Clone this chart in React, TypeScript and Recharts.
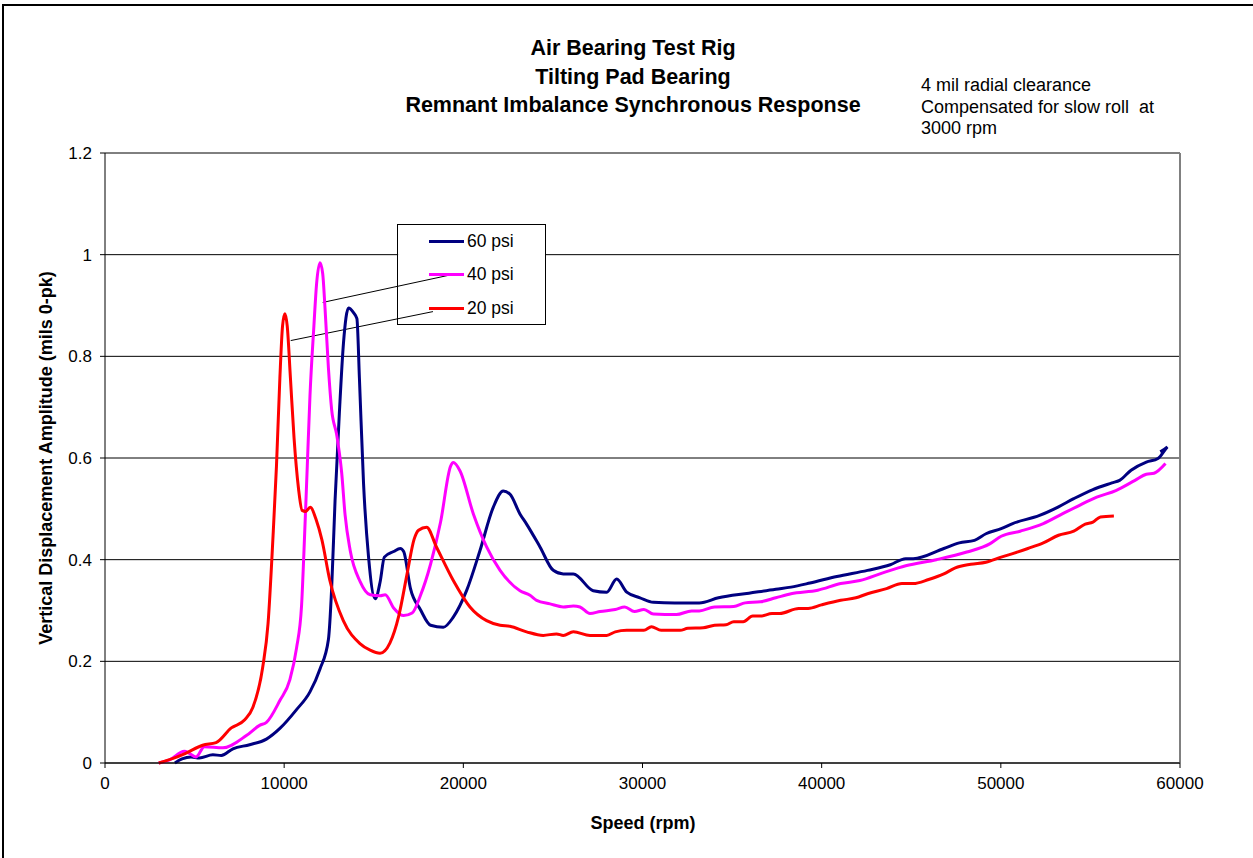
import { LineChart, Line, XAxis, YAxis, CartesianGrid, ReferenceLine, ReferenceArea } from "recharts"

type Pt = { rpm: number; v: number }
const pts = (rows: number[][]): Pt[] => rows.map(([rpm, v]) => ({ rpm, v }))

// 20 psi supply pressure
const psi20 = pts([
  [3000, 0], [3800, 0.009], [4500, 0.019], [5450, 0.035], [6200, 0.04], [7050, 0.069], [7800, 0.085],
  [8250, 0.109], [8800, 0.188], [9100, 0.274], [9380, 0.447], [9570, 0.584], [9760, 0.757], [9910, 0.86],
  [10040, 0.884], [10170, 0.86], [10350, 0.757], [10550, 0.64], [10800, 0.54], [11000, 0.497], [11200, 0.495],
  [11450, 0.503], [11800, 0.477], [12100, 0.44], [12550, 0.359], [13300, 0.28], [14230, 0.235], [14800, 0.222],
  [15350, 0.216], [15900, 0.236], [16400, 0.29], [16850, 0.37], [17250, 0.44], [17500, 0.458], [17950, 0.464],
  [18500, 0.425], [19440, 0.359], [20370, 0.307], [21300, 0.28], [22050, 0.271], [22600, 0.269], [23530, 0.258],
  [24460, 0.251], [25200, 0.254], [25580, 0.251], [26140, 0.258], [27070, 0.251], [28000, 0.251], [28480, 0.258],
  [29120, 0.261], [30080, 0.261], [30500, 0.268], [31040, 0.261], [32100, 0.261], [32530, 0.265], [33390, 0.266],
  [34020, 0.271], [34660, 0.272], [35090, 0.278], [35620, 0.278], [36150, 0.289], [36580, 0.289], [37230, 0.294],
  [37650, 0.294], [38720, 0.304], [39250, 0.304], [39990, 0.311], [41060, 0.32], [41910, 0.325], [42560, 0.333],
  [43620, 0.343], [44480, 0.353], [45110, 0.353], [45970, 0.361], [46820, 0.372], [47460, 0.384], [48320, 0.391],
  [49170, 0.395], [50020, 0.405], [50660, 0.412], [51510, 0.422], [52370, 0.433], [53220, 0.448], [54070, 0.456],
  [54710, 0.47], [55140, 0.474], [55560, 0.484], [56310, 0.486],
])

// 40 psi
const psi40 = pts([
  [3000, 0], [3600, 0.006], [4430, 0.023], [4710, 0.019], [5080, 0.012], [5550, 0.032], [6580, 0.03],
  [7890, 0.054], [8630, 0.074], [9010, 0.08], [9760, 0.123], [10320, 0.164], [10690, 0.226], [10970, 0.309],
  [11100, 0.412], [11290, 0.584], [11440, 0.722], [11660, 0.86], [11810, 0.943], [12000, 0.984], [12150, 0.963],
  [12280, 0.895], [12470, 0.777], [12650, 0.695], [12930, 0.646], [13210, 0.571], [13400, 0.488], [13680, 0.419],
  [14240, 0.357], [14800, 0.331], [15360, 0.329], [15640, 0.331], [16110, 0.305], [16670, 0.29], [17140, 0.295],
  [17600, 0.329], [18170, 0.391], [18730, 0.474], [19290, 0.584], [19440, 0.591], [19810, 0.575], [20560, 0.49],
  [21300, 0.425], [22050, 0.379], [23160, 0.339], [23720, 0.33], [24090, 0.32], [24840, 0.313], [25580, 0.307],
  [26140, 0.309], [26510, 0.307], [27070, 0.294], [27630, 0.298], [28480, 0.302], [29010, 0.307], [29550, 0.298],
  [30080, 0.302], [30610, 0.293], [31890, 0.292], [32740, 0.299], [33170, 0.299], [34020, 0.307], [35090, 0.308],
  [35730, 0.315], [36580, 0.317], [37440, 0.325], [38290, 0.333], [39780, 0.34], [41060, 0.353], [42130, 0.359],
  [43410, 0.374], [44690, 0.388], [46400, 0.4], [48100, 0.415], [49380, 0.431], [50020, 0.446], [51080, 0.456],
  [52370, 0.471], [53430, 0.49], [54280, 0.505], [55350, 0.523], [56420, 0.536], [57490, 0.556], [58120, 0.568],
  [58550, 0.57], [59190, 0.589],
])

// 60 psi
const psi60 = pts([
  [3900, 0], [4300, 0.008], [4800, 0.012], [5270, 0.01], [6020, 0.016], [6490, 0.015], [7140, 0.028],
  [8070, 0.036], [9010, 0.047], [9760, 0.068], [10690, 0.105], [11440, 0.14], [12000, 0.185], [12470, 0.243],
  [12650, 0.343], [12840, 0.516], [13080, 0.688], [13310, 0.826], [13590, 0.895], [13870, 0.886], [14060, 0.874],
  [14200, 0.757], [14430, 0.55], [14710, 0.405], [15080, 0.323], [15360, 0.357], [15590, 0.405], [16110, 0.416],
  [16480, 0.422], [16670, 0.416], [17050, 0.343], [17600, 0.302], [18170, 0.271], [18880, 0.267], [19440, 0.287],
  [20180, 0.339], [20930, 0.418], [21670, 0.503], [22230, 0.535], [22600, 0.529], [23160, 0.49], [23530, 0.47],
  [24280, 0.425], [25020, 0.379], [25580, 0.372], [26140, 0.372], [27250, 0.339], [28000, 0.336], [28560, 0.362],
  [29120, 0.336], [29860, 0.325], [30610, 0.316], [31800, 0.315], [33170, 0.315], [34240, 0.325], [35940, 0.334],
  [37440, 0.342], [38290, 0.346], [39350, 0.354], [40850, 0.367], [42560, 0.379], [43830, 0.39], [44690, 0.402],
  [45110, 0.402], [46820, 0.422], [47680, 0.433], [48530, 0.438], [49170, 0.451], [50020, 0.461], [50660, 0.471],
  [52160, 0.487], [53220, 0.504], [54070, 0.52], [55140, 0.538], [56200, 0.551], [56630, 0.556], [57270, 0.576],
  [58120, 0.592], [58770, 0.599], [59300, 0.622], [58900, 0.612],
])

const SERIES = [
  { name: "60 psi", color: "#000080", data: psi60 },
  { name: "40 psi", color: "#FF00FF", data: psi40 },
  { name: "20 psi", color: "#FF0000", data: psi20 },
]

const xTicks = [0, 10000, 20000, 30000, 40000, 50000, 60000]
const yTicks = [0, 0.2, 0.4, 0.6, 0.8, 1, 1.2]
const titleLines = ["Air Bearing Test Rig", "Tilting Pad Bearing", "Remnant Imbalance Synchronous Response"]
const noteLines = ["4 mil radial clearance", "Compensated for slow roll  at", "3000 rpm"]

// leader lines from legend swatches to the peaks
const leader40 = [{ x: 12150, y: 0.906 }, { x: 19255, y: 0.96 }]
const leader20 = [{ x: 10364, y: 0.831 }, { x: 18306, y: 0.888 }]

const FONT = "Arial, 'Liberation Sans', sans-serif"
const tickStyle = { fontSize: 17, fill: "#000", fontFamily: FONT }

export default function App() {
  return (
    <div style={{ position: "absolute", left: 0, top: 0, width: 1253, height: 858, overflow: "hidden", background: "#fff", fontFamily: FONT }}>
      <div style={{ position: "absolute", left: 2, top: 4, width: 1300, height: 900, border: "2px solid #000" }} />

      {titleLines.map((t, i) => (
        <div key={t} style={{ position: "absolute", left: 333, width: 600, top: 35 + i * 28.5, textAlign: "center", fontWeight: "bold", fontSize: 21.5, lineHeight: "26px" }}>
          {t}
        </div>
      ))}
      {noteLines.map((t, i) => (
        <div key={t} style={{ position: "absolute", left: 921, top: 74 + i * 21.7, fontSize: 18, lineHeight: "22px", whiteSpace: "pre" }}>
          {t}
        </div>
      ))}

      <LineChart width={1253} height={858} data={psi20} margin={{ top: 153, right: 73, bottom: 65, left: 45 }} style={{ position: "absolute", left: 0, top: 0 }}>
        <CartesianGrid horizontal vertical={false} stroke="#000" strokeWidth={1} />
        <XAxis type="number" dataKey="rpm" domain={[0, 60000]} ticks={xTicks} height={30} tick={tickStyle}
          tickSize={5} tickMargin={9} stroke="#000" allowDataOverflow />
        <YAxis type="number" dataKey="v" domain={[0, 1.2]} ticks={yTicks} width={60} tick={tickStyle}
          tickSize={5} tickMargin={8} stroke="#000" />
        <ReferenceLine x={60000} stroke="#808080" strokeWidth={2} />
        <ReferenceArea x1={16360} x2={24560} y1={0.866} y2={1.056} fill="#fff" fillOpacity={1} stroke="none" />
        <ReferenceLine segment={leader40} stroke="#000" strokeWidth={1} />
        <ReferenceLine segment={leader20} stroke="#000" strokeWidth={1} />
        {SERIES.map((s) => (
          <Line key={s.name} data={s.data} dataKey="v" name={s.name} type="monotone" stroke={s.color}
            strokeWidth={3} dot={false} isAnimationActive={false} />
        ))}
      </LineChart>

      {/* legend */}
      <div style={{ position: "absolute", left: 397, top: 224, width: 149, height: 101, boxSizing: "border-box", border: "1px solid #000" }}>
        {SERIES.map((s, i) => (
          <div key={s.name} style={{ position: "absolute", left: 31, top: 5 + i * 33.5, height: 22, display: "flex", alignItems: "center" }}>
            <div style={{ width: 35, height: 3, background: s.color }} />
            <span style={{ marginLeft: 3, fontSize: 17.5 }}>{s.name}</span>
          </div>
        ))}
      </div>

      <div style={{ position: "absolute", left: 46 - 300, top: 447, width: 600, textAlign: "center", transform: "rotate(-90deg)", fontWeight: "bold", fontSize: 18, lineHeight: "22px" }}>
        Vertical Displacement Amplitude (mils 0-pk)
      </div>
      <div style={{ position: "absolute", left: 343, top: 812, width: 600, textAlign: "center", fontWeight: "bold", fontSize: 18, lineHeight: "22px" }}>
        Speed (rpm)
      </div>
    </div>
  )
}
